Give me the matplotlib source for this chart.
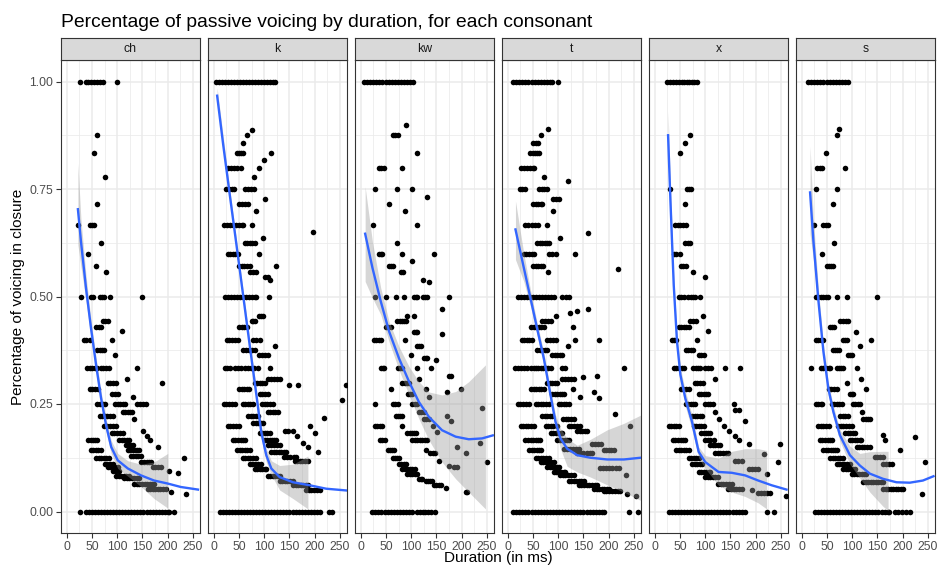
import matplotlib
matplotlib.use("Agg")
import matplotlib.pyplot as plt

plt.rcParams['font.family'] = ['Liberation Sans', 'DejaVu Sans']

consonants = ['ch', 'k', 'kw', 't', 'x', 's']

# points, grouped as (voicing, [durations in ms])
ch_runs = [
    (1.000, [27, 38, 43, 48, 54, 59, 65, 71, 99]),
    (0.875, [59]), (0.833, [53]), (0.778, [75]), (0.714, [59]),
    (0.667, [22, 45, 49, 53]), (0.625, [68]), (0.600, [42]), (0.571, [57]), (0.556, [78]),
    (0.500, [28, 47, 51, 65, 70, 74, 86, 149]),
    (0.444, [71, 76, 81]), (0.429, [58, 63, 67]), (0.419, [109]),
    (0.400, [34, 39, 45, 89]), (0.375, [60, 65, 70, 74]), (0.364, [96]),
    (0.333, [40, 45, 50, 55, 60, 67, 72, 78, 84, 139]),
    (0.308, [119]), (0.300, [81, 86, 92, 97, 188]),
    (0.286, [45, 50, 56, 61]), (0.273, [89, 95, 102]), (0.267, [131]),
    (0.250, [60, 65, 71, 76, 96, 101, 106, 111, 115, 139, 145, 151, 157]),
    (0.231, [111, 116, 121, 126, 130]), (0.222, [65, 70, 75, 80, 86, 91]), (0.214, [134]),
    (0.200, [73, 79, 85, 91, 97]), (0.188, [151]), (0.182, [89, 94, 100, 105, 111]), (0.176, [159]),
    (0.167, [42, 47, 52, 56, 60, 104, 109, 114, 119, 124, 165]),
    (0.154, [118, 123, 128, 132]), (0.150, [180]),
    (0.143, [47, 52, 57, 62, 68, 121, 126, 131, 136, 140, 144]),
    (0.130, [127, 132, 137, 142, 148]),
    (0.125, [58, 63, 68, 73, 78, 84, 233]),
    (0.115, [148, 153, 158, 163, 167]),
    (0.111, [75, 80, 85, 91]),
    (0.103, [81, 86, 91, 96, 101, 170, 175, 181, 186]),
    (0.095, [91, 97, 104, 203]), (0.090, [221]),
    (0.083, [98, 103, 108, 113, 118, 124]),
    (0.077, [114, 119, 124, 129, 134, 139, 144]),
    (0.065, [134, 139, 144, 149, 154, 159, 164, 169, 173]),
    (0.053, [160, 165, 170, 175, 180, 185, 190, 196]),
    (0.045, [206]), (0.041, [236]),
    (0.000, [27, 38, 44, 50, 56, 62, 68, 74, 80, 86, 92, 98, 104, 110, 116, 122, 128,
             134, 140, 146, 152, 158, 164, 170, 176, 182, 188, 194, 200, 203, 213]),
]

k_runs = [
    (1.000, [4, 10, 16, 22, 28, 34, 40, 46, 52, 58, 64, 70, 76, 82, 88, 94, 100, 106, 112, 118, 122]),
    (0.888, [76]), (0.875, [65]), (0.857, [57]), (0.833, [45, 50, 54, 58, 113]), (0.818, [100]),
    (0.800, [28, 34, 40, 46, 53, 90]), (0.778, [80]),
    (0.750, [24, 30, 36, 41, 61, 67, 73, 79]), (0.727, [101]),
    (0.714, [50, 56, 62, 68]), (0.700, [84]),
    (0.667, [20, 26, 32, 38, 44, 50, 55, 58, 75]), (0.650, [196]), (0.636, [98]),
    (0.625, [61, 66, 71, 76, 81]), (0.600, [28, 33, 38, 43, 48, 90]),
    (0.571, [50, 55, 60, 65, 71, 123]), (0.556, [71, 77, 84]), (0.545, [101, 107]), (0.538, [111]),
    (0.500, [22, 28, 34, 40, 46, 52, 58, 64, 70, 76, 82, 84, 109]),
    (0.455, [90, 94, 98]), (0.444, [75, 78, 81]),
    (0.429, [50, 55, 60, 65]), (0.400, [26, 31, 37, 43, 48, 78, 84, 91]), (0.385, [121]),
    (0.375, [58, 64, 70, 76, 81]), (0.364, [90, 96, 102, 107]),
    (0.333, [22, 27, 32, 42, 48, 54, 61, 68, 74, 80, 88, 111]),
    (0.308, [107, 113, 119, 125, 131]), (0.300, [81, 86, 91, 96, 101]), (0.294, [150, 167, 262]),
    (0.286, [50, 55, 60, 65, 70]), (0.273, [91, 96, 102, 107]), (0.260, [254]),
    (0.250, [20, 25, 30, 36, 42, 57, 62, 67, 72, 77, 96, 101, 106, 112, 117]),
    (0.231, [107, 112, 117, 122, 127]), (0.222, [68, 73, 78, 83, 88]), (0.217, [219]),
    (0.205, [78, 83, 88, 93, 98]), (0.200, [28, 33, 38, 44, 50, 190]),
    (0.188, [142, 148, 156]), (0.182, [91, 96, 101, 106, 111, 200]), (0.176, [165]),
    (0.167, [38, 43, 48, 53, 58, 61, 101, 106, 111, 116, 120, 124]),
    (0.160, [177]), (0.154, [107, 113, 119, 125, 131]), (0.150, [187]),
    (0.143, [46, 51, 56, 61, 66, 71]), (0.138, [114, 119, 124, 129, 134, 139, 144, 206]),
    (0.127, [140, 146, 152, 158, 163]), (0.125, [57, 62, 67, 72, 78, 84]),
    (0.117, [160, 165, 170, 175, 181, 187]), (0.111, [71, 76, 81, 87, 94]),
    (0.100, [81, 86, 91, 96, 101, 104]), (0.083, [107, 112, 117, 122, 127, 131]),
    (0.072, [131, 136, 141, 146, 151, 157]), (0.061, [157, 162, 167, 172, 177, 182, 187]),
    (0.049, [183, 188, 193, 198, 204, 210]),
    (0.000, [12, 18, 24, 30, 36, 42, 48, 54, 60, 66, 72, 78, 84, 90, 96, 102, 108, 114, 120,
             126, 132, 138, 144, 150, 156, 162, 168, 174, 180, 186, 192, 198, 204, 210, 228, 234]),
]

kw_runs = [
    (1.000, [7, 13, 19, 25, 31, 37, 43, 49, 55, 61, 67, 73, 79, 85, 91, 97, 103]),
    (0.900, [89]), (0.875, [63, 68, 74]), (0.833, [111]), (0.800, [36, 41, 46, 82]),
    (0.750, [28, 71, 102]), (0.732, [132]), (0.714, [56]), (0.700, [88]),
    (0.667, [24, 111]), (0.625, [72]), (0.600, [36, 40, 43, 82, 145]), (0.583, [102]),
    (0.571, [55, 59, 63]), (0.556, [79, 84]), (0.538, [123]), (0.533, [135]),
    (0.500, [28, 49, 69, 86, 105, 109, 112, 123, 128, 132, 175]),
    (0.471, [160]), (0.455, [92, 105]), (0.444, [72, 77, 82, 86, 89]),
    (0.429, [49, 54, 59]), (0.417, [105, 109, 112]), (0.412, [160]),
    (0.400, [26, 31, 36, 40, 88]), (0.385, [112, 116, 119]), (0.364, [99]),
    (0.357, [125, 129, 132]), (0.353, [150]),
    (0.333, [40, 44, 46, 73, 78, 82, 112, 140]), (0.316, [175, 178]),
    (0.308, [115]), (0.300, [82, 87, 91, 96]), (0.286, [59, 129, 198]), (0.278, [170]),
    (0.273, [94, 98, 102]), (0.267, [135]),
    (0.250, [28, 63, 68, 73, 102, 107, 112]), (0.240, [241]),
    (0.231, [115, 120, 125]), (0.222, [69, 74, 78, 82, 170]), (0.214, [125, 130, 135]), (0.210, [178]),
    (0.200, [28, 33, 38, 43, 82, 143]), (0.185, [152]), (0.182, [92, 97, 102, 106, 109]),
    (0.167, [38, 43, 48, 102, 107, 112, 117, 122, 127, 132]), (0.160, [237]),
    (0.150, [190]), (0.143, [53, 58, 62, 66, 129]), (0.136, [138, 143, 148, 208]),
    (0.125, [63, 67, 71, 76]), (0.118, [155]), (0.115, [250]),
    (0.111, [76, 80, 85, 89]), (0.106, [175]), (0.104, [184, 191]),
    (0.100, [82, 87, 92, 97, 102, 107]), (0.088, [92, 97, 102, 107, 112]),
    (0.076, [115, 119, 122]), (0.072, [129, 133, 137, 142]),
    (0.062, [145, 150, 154, 158]), (0.055, [169]), (0.045, [208, 211]),
    (0.000, [23, 29, 35, 41, 47, 53, 59, 65, 71, 77, 83, 89, 95, 102, 112, 118, 124,
             128, 134, 140, 148]),
]

t_runs = [
    (1.000, [11, 17, 23, 29, 35, 41, 47, 53, 59, 65, 71, 77, 83, 88, 100]),
    (0.889, [79]), (0.875, [66]), (0.857, [50, 55, 60]), (0.833, [44, 49, 54, 58, 62]),
    (0.800, [26, 32, 38, 44, 50, 52]), (0.778, [71]), (0.769, [120]),
    (0.750, [24, 29, 35, 62, 67, 72, 77]), (0.727, [90, 96, 101]),
    (0.714, [50, 55, 60, 65, 68]), (0.700, [90]),
    (0.667, [35, 41, 47, 53, 60, 78]), (0.647, [159]), (0.636, [103]),
    (0.625, [58, 63, 68, 73, 78, 81]), (0.600, [32, 37, 42, 47, 52, 81, 88, 95, 134]),
    (0.571, [50, 55, 60, 65, 70]), (0.565, [218]), (0.556, [79]),
    (0.500, [20, 26, 32, 38, 44, 50, 56, 62, 68, 74, 80, 86, 91, 108, 115, 121]),
    (0.471, [159]), (0.467, [138]), (0.462, [123]), (0.455, [95]),
    (0.444, [68, 73, 79, 85]), (0.429, [46, 51, 56, 61, 66, 71, 129]),
    (0.400, [28, 33, 38, 43, 48, 78, 83, 89, 95, 134, 180]), (0.385, [119]),
    (0.375, [58, 63, 68, 73, 78]), (0.364, [88, 93, 98, 103, 108]),
    (0.333, [15, 21, 27, 33, 39, 45, 51, 56, 60, 65, 70, 75, 80, 85, 108, 114, 230]),
    (0.316, [177]), (0.312, [149]), (0.308, [108, 113, 119, 125, 131]),
    (0.300, [78, 83, 88, 93, 98]), (0.286, [46, 51, 56, 61, 66, 71, 130]),
    (0.278, [171]), (0.273, [88, 93, 98, 103, 108, 111]), (0.267, [143]), (0.263, [180]),
    (0.250, [20, 25, 31, 37, 42, 55, 60, 65, 70, 76, 81, 101, 106, 111, 116, 121]),
    (0.226, [212]), (0.222, [68, 73, 78, 83, 88]), (0.214, [110, 115, 120, 125, 131]),
    (0.200, [26, 31, 36, 41, 46, 52, 75, 80, 85, 90, 98, 121, 126, 131, 137, 144, 242]),
    (0.188, [138, 143, 148, 153, 157]), (0.182, [85, 90, 95, 100, 105, 108]),
    (0.167, [35, 40, 45, 50, 55, 60, 64, 98, 103, 108, 113, 118, 121]),
    (0.158, [167, 172, 178, 184]), (0.146, [111, 117, 123, 129, 135, 141]),
    (0.143, [42, 47, 52, 57, 62, 65, 190, 195, 200, 205, 210]),
    (0.135, [138, 144, 150, 156, 162, 167]), (0.125, [55, 60, 65, 70, 76, 81]),
    (0.114, [65, 70, 75, 80, 86, 91]), (0.103, [78, 83, 88, 93, 98, 101]),
    (0.101, [182, 188, 194, 200, 207, 214, 220]), (0.093, [91, 96, 101, 106, 111, 114]),
    (0.084, [104, 109, 114, 119, 125, 131, 235]),
    (0.072, [121, 126, 131, 136, 141, 146, 151]),
    (0.061, [141, 146, 151, 156, 161, 166, 172, 177]),
    (0.053, [171, 176, 181, 186, 191, 196, 200]),
    (0.047, [190, 195, 200, 206, 212, 218, 223]), (0.041, [237]), (0.037, [255]),
    (0.000, [11, 17, 23, 29, 35, 41, 47, 53, 59, 65, 71, 77, 83, 89, 95, 101, 107, 113, 119,
             125, 131, 137, 143, 149, 156, 162, 168, 174, 180, 186, 190, 240, 258]),
]

x_runs = [
    (1.000, [24, 30, 36, 42, 48, 54, 57, 63, 68, 73, 78, 84]),
    (0.875, [69]), (0.857, [59]), (0.833, [49]), (0.750, [30, 63, 68, 72]), (0.714, [59]),
    (0.667, [40, 45, 50, 55, 61]), (0.625, [59, 65, 70]), (0.600, [38, 43, 49]),
    (0.571, [51, 56, 61]), (0.556, [76]), (0.545, [100]),
    (0.500, [47, 52, 57, 66, 71, 76, 79, 89]),
    (0.455, [95]), (0.444, [70, 76, 82]), (0.429, [47, 52, 57, 62, 67]), (0.419, [105]),
    (0.400, [34, 39, 43, 84]), (0.375, [61, 66, 71, 76]), (0.364, [87, 92, 97]),
    (0.333, [38, 43, 48, 53, 57, 76, 81, 86, 90, 100, 106, 112, 140, 169]),
    (0.308, [120]), (0.300, [79, 84, 90, 95]), (0.286, [51, 56, 61, 67]),
    (0.273, [87, 92, 97, 101, 105]), (0.250, [61, 66, 71, 76, 79, 100, 105, 110, 115, 156]),
    (0.236, [159, 166]), (0.231, [120]), (0.222, [74, 79, 84, 89, 93]), (0.214, [128]), (0.210, [179]),
    (0.200, [28, 33, 38, 43, 47, 77, 82, 87, 92, 97, 138]),
    (0.188, [148]), (0.182, [92, 97, 102, 106, 109]), (0.176, [159]),
    (0.167, [36, 41, 46, 51, 56, 59, 100, 105, 110, 117, 166]),
    (0.156, [186, 248]), (0.154, [110, 115, 120, 125, 130]),
    (0.143, [42, 47, 52, 57, 62, 67]), (0.135, [120, 125, 130, 135, 141, 146]), (0.133, [217]),
    (0.125, [67, 72, 77, 82, 87]), (0.117, [159, 165, 172]), (0.115, [244]),
    (0.111, [74, 79, 84, 89, 93]), (0.100, [186, 192, 198, 205]),
    (0.092, [87, 92, 97, 102, 107, 110]), (0.088, [222]),
    (0.080, [100, 105, 110, 115, 120, 126]), (0.064, [126, 131, 136, 142, 147, 153]),
    (0.053, [146, 151, 156, 161, 167, 172]), (0.049, [192]),
    (0.044, [205, 210, 216, 222, 228]), (0.037, [261]),
    (0.000, [28, 34, 40, 46, 52, 58, 64, 70, 76, 82, 88, 94, 100, 106, 112, 118, 124, 130,
             136, 142, 148, 154, 160, 166, 172, 179, 222, 237]),
]

s_runs = [
    (1.000, [13, 19, 25, 31, 37, 43, 49, 55, 61, 67, 73, 79, 85, 92]),
    (0.889, [74]), (0.875, [69]), (0.833, [48]), (0.800, [31, 36, 41, 86]),
    (0.750, [28, 69]), (0.714, [61]), (0.667, [24, 42, 47, 51]), (0.625, [64]),
    (0.600, [40]), (0.571, [49, 54, 58, 62]),
    (0.500, [28, 33, 38, 43, 48, 51, 69, 89, 150]),
    (0.444, [76, 81, 87, 92]), (0.429, [56, 60, 64]), (0.417, [107]),
    (0.400, [28, 33, 38, 43, 82, 86, 89, 138]), (0.385, [115]),
    (0.375, [61, 66, 70, 74]), (0.364, [92, 96, 99]),
    (0.333, [19, 38, 43, 48, 53, 56, 69, 74, 78, 82, 109]),
    (0.308, [118]), (0.300, [89]), (0.286, [53, 58, 63, 69, 127]), (0.273, [95, 99, 102]),
    (0.250, [28, 33, 38, 40, 59, 64, 69, 74, 79, 101, 106, 111, 115]),
    (0.231, [120]), (0.222, [76, 81, 86, 92]), (0.214, [122, 127, 131, 135]),
    (0.200, [33, 38, 43, 48, 53, 72, 77, 82, 87, 93, 99]),
    (0.182, [86, 91, 96, 101, 105]), (0.179, [160]), (0.174, [224]),
    (0.167, [36, 41, 46, 51, 56, 59, 95, 100, 105, 110, 115, 118, 165]),
    (0.150, [109, 114, 119, 124, 130, 135]), (0.143, [42, 47, 52, 57, 62, 66, 69, 194]),
    (0.127, [145, 150, 155, 161]), (0.125, [56, 61, 66, 71, 76, 82]),
    (0.115, [245]), (0.111, [69, 74, 79, 84, 90, 95, 161, 166, 172, 178]),
    (0.100, [82, 87, 92, 97, 102, 105]), (0.088, [99, 104, 109, 114, 119, 124, 128]),
    (0.068, [122, 127, 132, 137, 142, 147, 152, 157, 161]),
    (0.053, [161, 166, 171, 176, 181, 186, 191, 196, 201]), (0.041, [239]),
    (0.000, [26, 32, 38, 44, 50, 56, 62, 68, 74, 80, 86, 92, 98, 104, 110, 116, 122, 128,
             134, 140, 146, 152, 158, 164, 170, 173, 184, 190, 198, 206, 214]),
]

# smoothed fit (line) and its confidence band
ch_fit_x = [22, 28, 38, 48, 58, 68, 78, 88, 101, 121, 147, 173, 200, 226, 260]
ch_fit_y = [0.703, 0.629, 0.52, 0.426, 0.341, 0.263, 0.20, 0.15, 0.119, 0.10, 0.084, 0.072, 0.065, 0.057, 0.051]
ch_band_x = [22, 28, 38, 48, 58, 68, 78, 88, 101, 121, 147, 173, 200]
ch_band_hi = [0.81, 0.68, 0.55, 0.445, 0.358, 0.278, 0.215, 0.165, 0.135, 0.118, 0.11, 0.115, 0.135]
ch_band_lo = [0.62, 0.57, 0.49, 0.405, 0.324, 0.248, 0.185, 0.135, 0.10, 0.082, 0.058, 0.03, 0.008]

k_fit_x = [6.6, 18.5, 31.6, 44.8, 58, 71, 84.4, 94, 104, 114, 130.5, 157, 190, 222.7, 262]
k_fit_y = [0.967, 0.854, 0.737, 0.621, 0.504, 0.388, 0.271, 0.185, 0.131, 0.10, 0.08, 0.068, 0.061, 0.053, 0.049]
k_band_x = [6.6, 31.6, 58, 84.4, 94, 104, 114, 130.5, 157, 186.5]
k_band_hi = [0.985, 0.75, 0.515, 0.285, 0.20, 0.146, 0.118, 0.107, 0.11, 0.129]
k_band_lo = [0.95, 0.725, 0.493, 0.257, 0.17, 0.115, 0.085, 0.05, 0.03, 0.006]

kw_fit_x = [8.6, 23, 39.5, 56, 75.8, 95.6, 115, 135, 161, 188, 214, 240.5, 261.6]
kw_fit_y = [0.646, 0.567, 0.489, 0.419, 0.356, 0.302, 0.255, 0.22, 0.189, 0.174, 0.168, 0.17, 0.177]
kw_band_x = [8.6, 23, 39.5, 56, 75.8, 95.6, 115, 135, 161, 188, 214, 247]
kw_band_hi = [0.755, 0.628, 0.52, 0.442, 0.383, 0.337, 0.302, 0.278, 0.271, 0.279, 0.302, 0.341]
kw_band_lo = [0.535, 0.497, 0.458, 0.395, 0.329, 0.271, 0.216, 0.166, 0.115, 0.076, 0.045, 0.006]

t_fit_x = [15.2, 31.7, 45, 58, 71.4, 84.6, 94.5, 104.4, 117.7, 137.5, 164, 197, 230, 263]
t_fit_y = [0.656, 0.567, 0.496, 0.426, 0.356, 0.271, 0.209, 0.17, 0.146, 0.131, 0.125, 0.121, 0.121, 0.125]
t_band_x = [15.2, 31.7, 45, 58, 71.4, 84.6, 94.5, 104.4, 117.7, 137.5, 164, 197, 230, 263]
t_band_hi = [0.722, 0.60, 0.515, 0.44, 0.37, 0.285, 0.225, 0.193, 0.17, 0.154, 0.168, 0.19, 0.205, 0.224]
t_band_lo = [0.586, 0.535, 0.477, 0.41, 0.34, 0.255, 0.19, 0.146, 0.105, 0.092, 0.08, 0.062, 0.045, 0.026]

x_fit_x = [26.3, 31, 37.5, 44, 50.7, 60.5, 73.7, 86.9, 100, 126.3, 152.7, 179, 205, 231.6, 261]
x_fit_y = [0.875, 0.722, 0.527, 0.395, 0.318, 0.263, 0.209, 0.139, 0.115, 0.092, 0.09, 0.084, 0.072, 0.061, 0.051]
x_band_x = [26.3, 31, 37.5, 44, 50.7, 60.5, 73.7, 86.9, 100, 126.3, 152.7, 179, 205, 221.7]
x_band_hi = [0.93, 0.76, 0.55, 0.41, 0.335, 0.28, 0.225, 0.15, 0.13, 0.124, 0.14, 0.146, 0.146, 0.142]
x_band_lo = [0.82, 0.69, 0.505, 0.38, 0.30, 0.245, 0.19, 0.125, 0.10, 0.061, 0.045, 0.035, 0.02, 0.006]

s_fit_x = [16.4, 23, 33, 42.8, 52.6, 62.5, 75.7, 95.4, 115, 135, 161, 187.5, 214, 240, 261]
s_fit_y = [0.742, 0.629, 0.489, 0.372, 0.286, 0.232, 0.177, 0.131, 0.107, 0.088, 0.076, 0.068, 0.067, 0.072, 0.082]
s_band_x = [16.4, 23, 33, 42.8, 52.6, 62.5, 75.7, 95.4, 115, 135, 161, 171]
s_band_hi = [0.85, 0.68, 0.515, 0.39, 0.30, 0.245, 0.19, 0.152, 0.135, 0.139, 0.14, 0.14]
s_band_lo = [0.645, 0.585, 0.465, 0.355, 0.27, 0.218, 0.163, 0.11, 0.078, 0.045, 0.012, 0.002]

x_ticks = [0, 50, 100, 150, 200, 250]
y_ticks = [0.0, 0.25, 0.5, 0.75, 1.0]
y_labels = ['0.00', '0.25', '0.50', '0.75', '1.00']

panels = [
    (ch_runs, ch_fit_x, ch_fit_y, ch_band_x, ch_band_lo, ch_band_hi),
    (k_runs, k_fit_x, k_fit_y, k_band_x, k_band_lo, k_band_hi),
    (kw_runs, kw_fit_x, kw_fit_y, kw_band_x, kw_band_lo, kw_band_hi),
    (t_runs, t_fit_x, t_fit_y, t_band_x, t_band_lo, t_band_hi),
    (x_runs, x_fit_x, x_fit_y, x_band_x, x_band_lo, x_band_hi),
    (s_runs, s_fit_x, s_fit_y, s_band_x, s_band_lo, s_band_hi),
]


def flatten(runs):
    xs, ys = [], []
    for v, row in runs:
        xs += row
        ys += [v] * len(row)
    return xs, ys


W, H = 940, 568
fig = plt.figure(figsize=(W / 100, H / 100), dpi=100)

left0, step, pw = 61, 147, 139
top, bottom = 60, 533
strip_h = 22
grid_col = '#EBEBEB'
border = '#333333'

for i, (name, (runs, fx, fy, bx, blo, bhi)) in enumerate(zip(consonants, panels)):
    x0 = left0 + i * step
    ax = fig.add_axes([x0 / W, 1 - bottom / H, pw / W, (bottom - top) / H])
    px, py = flatten(runs)
    ax.scatter(px, py, s=16, color='black', linewidths=0, zorder=3)
    ax.fill_between(bx, blo, bhi, color='#999999', alpha=0.4, linewidth=0, zorder=4)
    ax.plot(fx, fy, color='#3366FF', lw=1.7, zorder=5)

    ax.set_xlim(-11.5, 264)
    ax.set_ylim(-0.05, 1.05)
    ax.set_xticks(x_ticks)
    ax.set_xticks([25, 75, 125, 175, 225], minor=True)
    ax.set_yticks(y_ticks)
    ax.set_yticks([0.125, 0.375, 0.625, 0.875], minor=True)
    ax.grid(which='major', color=grid_col, lw=1.1, zorder=0)
    ax.grid(which='minor', color=grid_col, lw=0.55, zorder=0)
    ax.set_axisbelow(True)
    ax.tick_params(which='minor', length=0)
    ax.tick_params(which='major', length=3.5, width=0.8, color=border,
                   labelsize=8.8, labelcolor='#4D4D4D', pad=2)
    ax.set_xticklabels([str(t) for t in x_ticks])
    if i == 0:
        ax.set_yticklabels(y_labels)
    else:
        ax.tick_params(axis='y', left=False, labelleft=False)
    for sp in ax.spines.values():
        sp.set_color(border)
        sp.set_linewidth(0.8)

    # facet strip
    sax = fig.add_axes([x0 / W, 1 - top / H, pw / W, strip_h / H])
    sax.set_facecolor('#D9D9D9')
    sax.set_xticks([])
    sax.set_yticks([])
    for sp in sax.spines.values():
        sp.set_color(border)
        sp.set_linewidth(0.8)
    sax.text(0.5, 0.5, name, ha='center', va='center', fontsize=8.8,
             color='#1A1A1A', transform=sax.transAxes)

fig.text(61 / W, 1 - 27 / H, 'Percentage of passive voicing by duration, for each consonant',
         ha='left', va='baseline', fontsize=13.9, color='black')
fig.text(498 / W, 1 - 558 / H, 'Duration (in ms)', ha='center', va='center', fontsize=11)
fig.text(18 / W, 1 - 297 / H, 'Percentage of voicing in closure', ha='center', va='center',
         rotation=90, fontsize=11)

fig.savefig('out.png', dpi=100)
